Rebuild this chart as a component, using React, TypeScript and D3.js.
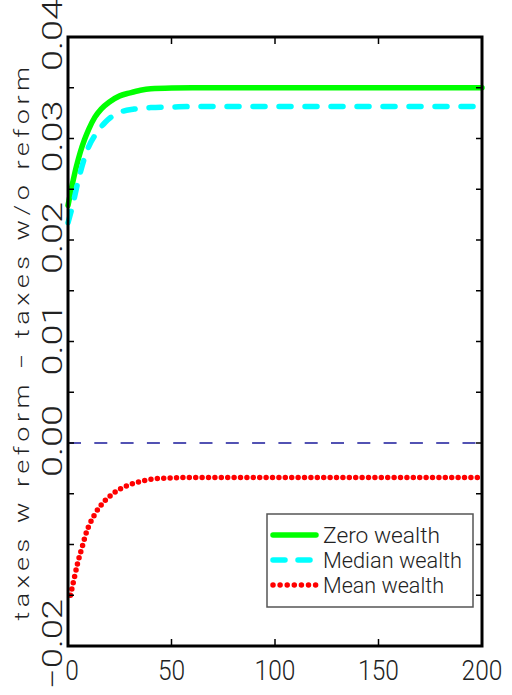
import React from "react";
import * as d3 from "d3";

// ---- data ----
const T_ZERO = [0, 2, 4, 6, 8, 10, 13, 16, 20, 25, 30, 35, 40, 50, 60, 200];
const ZERO_WEALTH = [0.0234, 0.0254, 0.0272, 0.0287, 0.0299, 0.0309, 0.0321, 0.0329, 0.0336, 0.0342, 0.0345, 0.03475, 0.0349, 0.03498, 0.035, 0.035];

const T_MEDIAN = [0, 2, 5, 9, 14, 18, 24, 32, 40, 50, 60, 200];
const MEDIAN_WEALTH = [0.0217, 0.0232, 0.0259, 0.0287, 0.0306, 0.0316, 0.0325, 0.0329, 0.03305, 0.0331, 0.03315, 0.03315];

const T_MEAN = [1.2, 3, 4.7, 6.8, 9, 12.4, 14.8, 17.7, 20.9, 24.2, 27.1, 30.3, 33.5, 36.6, 39.6, 45.4, 51.8, 60, 200];
const MEAN_WEALTH = [-0.015, -0.01333, -0.01179, -0.01028, -0.00874, -0.00722, -0.00643, -0.00571, -0.00512, -0.00463, -0.00433, -0.00407, -0.00387, -0.00371, -0.00358, -0.00348, -0.00342, -0.0034, -0.0034];

const X_TICKS = [0, 50, 100, 150, 200];
const Y_MAJOR = [-0.02, -0.01, 0, 0.01, 0.02, 0.03, 0.04];
const Y_LABELS = ["\u22120.02", "", "0.00", "0.01", "0.02", "0.03", "0.04"];
const Y_MINOR = [-0.015, -0.005, 0.005, 0.015, 0.025, 0.035];
const LEGEND = ["Zero wealth", "Median wealth", "Mean wealth"];
const LEGEND_WIDTHS = [117, 139, 121];
const Y_TITLE = "taxes w reform \u2212 taxes w/o reform";

const W = 512, H = 695;
const L = 68, R = 482, T = 37, B = 646;

export default function App() {
  const x = d3.scaleLinear().domain([0, 200]).range([L, R]);
  const y = d3.scaleLinear().domain([-0.02, 0.04]).range([B, T]);
  const line = (ts: number[], vs: number[]) =>
    d3.line<number>().x((_, i) => x(ts[i])).y((v) => y(v)).curve(d3.curveMonotoneX)(vs) as string;

  const font = "Roboto, 'Liberation Sans', Arial, sans-serif";
  const txt = "#222";
  const series = [
    { label: LEGEND[0], color: "#00ff00", dash: undefined as string | undefined, ldash: undefined as string | undefined, d: line(T_ZERO, ZERO_WEALTH) },
    { label: LEGEND[1], color: "#00ffff", dash: "12 14", ldash: "12 13", d: line(T_MEDIAN, MEDIAN_WEALTH) },
    { label: LEGEND[2], color: "#ff0000", dash: "0 6.4", ldash: "0 7.1", d: line(T_MEAN, MEAN_WEALTH) },
  ];
  const lgX = 267, lgY = 514, lgW = 206, lgH = 93;

  return (
    <svg width={W} height={H} style={{ position: "absolute", left: 0, top: 0, background: "#fff" }}>
      <line x1={L} x2={R} y1={y(0)} y2={y(0)} stroke="#1a1a9a" strokeWidth={1.3} strokeDasharray="13 13.3" />
      {series.map((s, i) => (
        <path key={i} d={s.d} fill="none" stroke={s.color} strokeWidth={5.5}
          strokeDasharray={s.dash} strokeLinecap="round" strokeLinejoin="round" />
      ))}
      {[...Y_MAJOR, ...Y_MINOR].map((v, i) => (
        <g key={"yt" + i}>
          <line x1={L} x2={L + 6} y1={y(v)} y2={y(v)} stroke="#000" strokeWidth={1.5} />
          <line x1={R - 6} x2={R} y1={y(v)} y2={y(v)} stroke="#000" strokeWidth={1.5} />
        </g>
      ))}
      {X_TICKS.map((v, i) => (
        <g key={"xt" + i}>
          <line x1={x(v)} x2={x(v)} y1={B} y2={B - 7} stroke="#000" strokeWidth={1.5} />
          <line x1={x(v)} x2={x(v)} y1={T} y2={T + 7} stroke="#000" strokeWidth={1.5} />
        </g>
      ))}
      <rect x={L} y={T} width={R - L} height={B - T} fill="none" stroke="#000" strokeWidth={3} />
      {X_TICKS.map((v, i) => {
        const s = String(v);
        return (
          <text key={"xl" + i} x={x(v) + (i === 0 ? 4 : 0)} y={680} textAnchor="middle"
            fontFamily={font} fontWeight={300} fontSize={27} fill={txt}
            textLength={s.length * 13.6} lengthAdjust="spacingAndGlyphs">{s}</text>
        );
      })}
      {Y_MAJOR.map((v, i) => Y_LABELS[i] ? (
        <text key={"yl" + i} transform={`translate(62,${y(v) - 2}) rotate(-90)`} textAnchor="middle"
          fontFamily={font} fontWeight={300} fontSize={27} fill={txt}
          textLength={Y_LABELS[i].length * 18} lengthAdjust="spacingAndGlyphs">{Y_LABELS[i]}</text>
      ) : null)}
      <text transform={`translate(29,${(T + B) / 2}) rotate(-90)`} textAnchor="middle"
        fontFamily={font} fontWeight={300} fontSize={21} fill={txt} letterSpacing={3.5}
        textLength={558} lengthAdjust="spacingAndGlyphs">{Y_TITLE}</text>
      <rect x={lgX} y={lgY} width={lgW} height={lgH} fill="#fff" stroke="#555" strokeWidth={1.5} />
      {series.map((s, i) => {
        const ly = lgY + 21 + i * 25;
        return (
          <g key={"lg" + i}>
            <line x1={lgX + 6} x2={lgX + 49} y1={ly} y2={ly} stroke={s.color} strokeWidth={5.5}
              strokeDasharray={s.ldash} strokeLinecap="round" />
            <text x={lgX + 56} y={ly + 8} fontFamily={font} fontWeight={300} fontSize={22} fill={txt}
              textLength={LEGEND_WIDTHS[i]} lengthAdjust="spacingAndGlyphs">{s.label}</text>
          </g>
        );
      })}
    </svg>
  );
}
